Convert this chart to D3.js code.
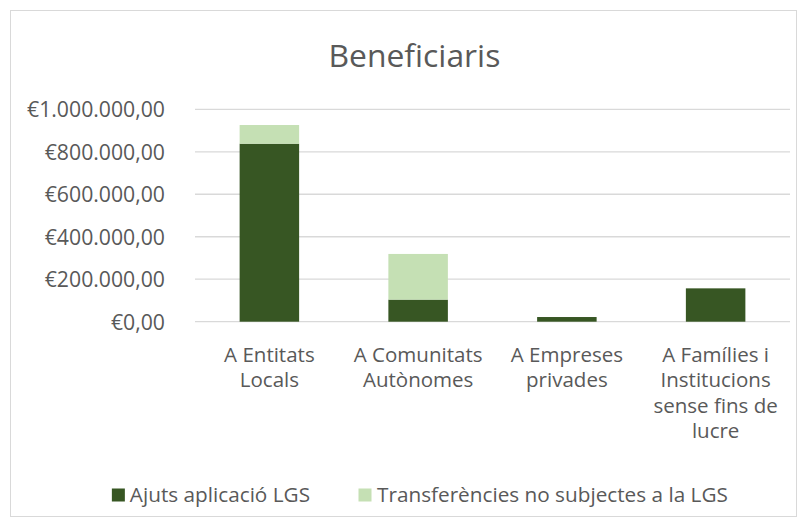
<!DOCTYPE html>
<html>
<head>
<meta charset="utf-8">
<script src="https://cdn.jsdelivr.net/npm/d3@7"></script>
<style>
  html, body { margin: 0; padding: 0; background: #ffffff; }
  svg { display: block; }
</style>
</head>
<body>
<svg id="chart" width="808" height="527"></svg>
<script>
// ---- data ----
const title = "Beneficiaris";
const categories = ["A Entitats\nLocals", "A Comunitats\nAutònomes", "A Empreses\nprivades", "A Famílies i\nInstitucions\nsense fins de\nlucre"];
const seriesNames = ["Ajuts aplicació LGS", "Transferències no subjectes a la LGS"];
const ajutsLGS = [838000, 104000, 22000, 157000];
const transferencies = [88000, 215000, 0, 0];
const yTicks = [0, 200000, 400000, 600000, 800000, 1000000];
const colors = ["#375623", "#C5E0B4"];

// ---- layout ----
const plot = { left: 195, right: 790, top: 109.3, bottom: 321.7 };
const FONT = "'Open Sans', 'Noto Sans', 'DejaVu Sans', sans-serif";
const TEXT = "#595959";

const svg = d3.select("#chart");

function sizeFor(str, targetWidth) {
  const t = svg.append("text").attr("font-family", FONT).attr("font-size", 20).text(str);
  const w = t.node().getComputedTextLength();
  t.remove();
  return 20 * targetWidth / w;
}
const titleSize = sizeFor(title, 172);
const tickSize = sizeFor("€1.000.000,00", 138);
const legendSize = sizeFor(seriesNames[1], 351);
const catSize = legendSize * 0.99;
const lineGap = 25.6;

// chart border
svg.append("rect")
  .attr("x", 10.5).attr("y", 10.5).attr("width", 786).attr("height", 506)
  .attr("fill", "#ffffff").attr("stroke", "#d9d9d9").attr("stroke-width", 1);

// title
svg.append("text")
  .attr("x", 414.4).attr("y", 66.7)
  .attr("text-anchor", "middle")
  .attr("font-family", FONT).attr("font-size", titleSize)
  .attr("fill", TEXT)
  .text(title);

// scales
const x = d3.scaleBand().domain(categories).range([plot.left, plot.right]).paddingInner(0.6).paddingOuter(0.3);
const y = d3.scaleLinear().domain([0, 1000000]).range([plot.bottom, plot.top]);

const locale = d3.formatLocale({ decimal: ",", thousands: ".", grouping: [3], currency: ["€", ""] });
const fmt = locale.format("$,.2f");

// gridlines
svg.append("g").selectAll("line").data(yTicks).join("line")
  .attr("x1", plot.left).attr("x2", plot.right)
  .attr("y1", d => y(d)).attr("y2", d => y(d))
  .attr("stroke", "#d9d9d9").attr("stroke-width", 1.3);

// y axis labels
const yAxis = d3.axisLeft(y).tickValues(yTicks).tickFormat(fmt).tickSize(0).tickPadding(0);
const yg = svg.append("g").attr("transform", `translate(165,0)`).call(yAxis);
yg.select(".domain").remove();
yg.selectAll("text")
  .attr("font-family", FONT).attr("font-size", tickSize).attr("fill", TEXT)
  .attr("dy", "0.35em");

// stacked bars
const rows = categories.map((c, i) => ({ cat: c, a: ajutsLGS[i], t: transferencies[i] }));
const stack = d3.stack().keys(["a", "t"])(rows);
svg.append("g").selectAll("g").data(stack).join("g")
  .attr("fill", (d, i) => colors[i])
  .selectAll("rect").data(d => d.filter(p => p[1] - p[0] > 0)).join("rect")
  .attr("x", d => x(d.data.cat))
  .attr("width", x.bandwidth())
  .attr("y", d => y(d[1]))
  .attr("height", d => y(d[0]) - y(d[1]));

// x axis category labels (one text element per line)
const xAxis = d3.axisBottom(x).tickSize(0).tickFormat("");
const xg = svg.append("g").attr("transform", `translate(0,${plot.bottom})`).call(xAxis);
xg.select(".domain").remove();
xg.selectAll(".tick").each(function (d) {
  const g = d3.select(this);
  d.split("\n").forEach((ln, k) => {
    g.append("text")
      .attr("x", 0).attr("y", 40 + k * lineGap)
      .attr("text-anchor", "middle")
      .attr("font-family", FONT).attr("font-size", catSize).attr("fill", TEXT)
      .text(ln);
  });
});

// legend
const legY = 495;
const sq = 13;
const lg = svg.append("g").attr("font-family", FONT).attr("font-size", legendSize).attr("fill", TEXT);
lg.append("rect").attr("x", 358.5).attr("y", legY - sq / 2).attr("width", sq).attr("height", sq).attr("fill", colors[1]);
lg.append("text").attr("x", 377).attr("y", legY).attr("dy", "0.35em").text(seriesNames[1]);
const t1 = lg.append("text").attr("x", 310).attr("y", legY).attr("dy", "0.35em").attr("text-anchor", "end").text(seriesNames[0]);
const w1 = t1.node().getComputedTextLength();
lg.append("rect").attr("x", 310 - w1 - 5 - sq).attr("y", legY - sq / 2).attr("width", sq).attr("height", sq).attr("fill", colors[0]);
</script>
</body>
</html>
